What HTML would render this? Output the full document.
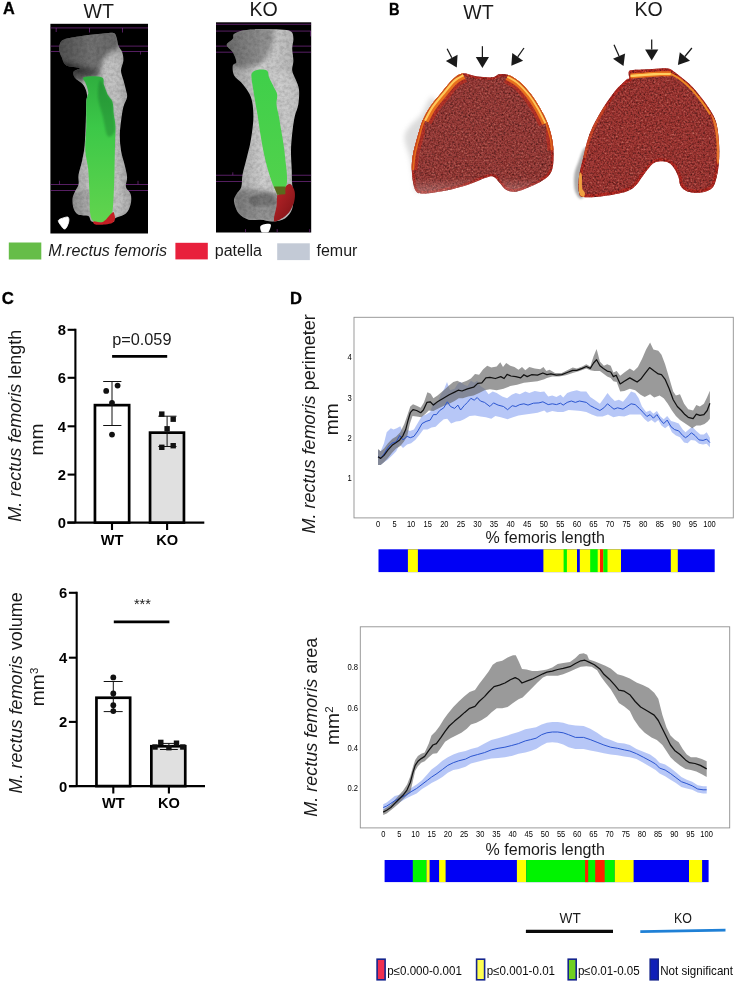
<!DOCTYPE html>
<html><head><meta charset="utf-8"><title>Figure</title>
<style>
html,body{margin:0;padding:0;background:#fff;}
body{width:736px;height:989px;overflow:hidden;position:relative;font-family:"Liberation Sans",Arial,sans-serif;}
svg{position:absolute;left:0;top:0;display:block}
text{font-family:"Liberation Sans",Arial,sans-serif;fill:#1a1a1a}
.b{font-weight:bold}
.i{font-style:italic}
</style></head><body>
<svg width="736" height="989" viewBox="0 0 736 989">
<defs>
<filter id="grain" x="0" y="0" width="100%" height="100%"><feTurbulence type="fractalNoise" baseFrequency="0.9" numOctaves="2" seed="3" result="n"/><feColorMatrix in="n" type="matrix" values="0 0 0 0 0  0 0 0 0 0  0 0 0 0 0  0.9 0.9 0.9 0 -0.95"/><feComposite in2="SourceGraphic" operator="in"/></filter>
<filter id="tex" x="0" y="0" width="100%" height="100%"><feTurbulence type="fractalNoise" baseFrequency="0.55" numOctaves="2" seed="7" result="n"/><feColorMatrix in="n" type="matrix" values="0 0 0 0 0  0 0 0 0 0  0 0 0 0 0  2.0 0 0 0 -0.9"/><feComposite in="SourceGraphic" operator="in"/></filter>
<filter id="tex2" x="0" y="0" width="100%" height="100%"><feTurbulence type="fractalNoise" baseFrequency="0.55" numOctaves="2" seed="7" result="n"/><feColorMatrix in="n" type="matrix" values="0 0 0 0 0  0 0 0 0 0  0 0 0 0 0  -2.2 0 0 0 0.85"/><feComposite in="SourceGraphic" operator="in"/></filter>
<filter id="soft" x="-5%" y="-5%" width="110%" height="110%"><feGaussianBlur stdDeviation="0.45"/></filter>
<linearGradient id="fadeB" x1="0" y1="0" x2="0" y2="1"><stop offset="0" stop-color="#fff" stop-opacity="0"/><stop offset="1" stop-color="#fff" stop-opacity="0.35"/></linearGradient>
<filter id="grainB" x="0" y="0" width="100%" height="100%"><feTurbulence type="fractalNoise" baseFrequency="0.3" numOctaves="3" seed="11" result="n"/><feColorMatrix in="n" type="matrix" values="0 0 0 0 0  0 0 0 0 0  0 0 0 0 0  1.2 0 0 0 -0.4"/><feComposite in="SourceGraphic" operator="in"/></filter>
<linearGradient id="boneKO" x1="0" y1="0" x2="1" y2="0"><stop offset="0" stop-color="#9a9a9a"/><stop offset="0.5" stop-color="#cfcfcf"/><stop offset="1" stop-color="#b4b4b4"/></linearGradient>
<linearGradient id="redK" x1="0" y1="0" x2="1" y2="1"><stop offset="0" stop-color="#c0262a"/><stop offset="1" stop-color="#7a1216"/></linearGradient>
<filter id="blur1"><feGaussianBlur stdDeviation="1.2"/></filter>
<filter id="blur2"><feGaussianBlur stdDeviation="2.5"/></filter>
<filter id="blur05"><feGaussianBlur stdDeviation="0.5"/></filter>
<linearGradient id="boneWT" x1="0" y1="0" x2="1" y2="0"><stop offset="0" stop-color="#8a8a8a"/><stop offset="0.45" stop-color="#c4c4c4"/><stop offset="1" stop-color="#a9a9a9"/></linearGradient>
<linearGradient id="boneV" x1="0" y1="0" x2="0" y2="1"><stop offset="0" stop-color="#000" stop-opacity="0.45"/><stop offset="0.25" stop-color="#000" stop-opacity="0.1"/><stop offset="0.6" stop-color="#fff" stop-opacity="0.1"/><stop offset="1" stop-color="#000" stop-opacity="0.1"/></linearGradient>
<linearGradient id="greenV" x1="0" y1="0" x2="0" y2="1"><stop offset="0" stop-color="#2fae3f"/><stop offset="0.35" stop-color="#3cc848"/><stop offset="1" stop-color="#62d44e"/></linearGradient>
<linearGradient id="greenK" x1="0" y1="0" x2="0" y2="1"><stop offset="0" stop-color="#3fcf4a"/><stop offset="1" stop-color="#52d24c"/></linearGradient>
<clipPath id="cWT"><rect x="50.4" y="23.8" width="97.6" height="209.7"/></clipPath>
<clipPath id="cKO"><rect x="216" y="22.3" width="95.2" height="210.2"/></clipPath>
</defs>

<text class="b" x="3" y="14.3" font-size="16.3" style="fill:#000;stroke:#000;stroke-width:0.3">A</text>
<text x="98.8" y="18" font-size="19.6" text-anchor="middle">WT</text>
<text x="263.6" y="15.6" font-size="19.6" text-anchor="middle">KO</text>
<rect x="50.4" y="23.8" width="97.6" height="209.7" fill="#000"/>
<g clip-path="url(#cWT)">
<line x1="50.4" y1="27.91" x2="148.0" y2="27.91" stroke="#86309a" stroke-width="0.7" opacity="0.95"/>
<line x1="50.4" y1="46.12" x2="148.0" y2="46.12" stroke="#86309a" stroke-width="0.7" opacity="0.95"/>
<line x1="50.4" y1="51.46" x2="148.0" y2="51.46" stroke="#86309a" stroke-width="0.7" opacity="0.95"/>
<line x1="50.4" y1="184.47" x2="148.0" y2="184.47" stroke="#86309a" stroke-width="0.7" opacity="0.95"/>
<line x1="50.4" y1="190.53" x2="148.0" y2="190.53" stroke="#86309a" stroke-width="0.7" opacity="0.95"/>
<line x1="56.2" y1="27.9" x2="56.2" y2="32.0" stroke="#86309a" stroke-width="0.7" opacity="0.9"/>
<line x1="89.5" y1="27.9" x2="89.5" y2="32.5" stroke="#86309a" stroke-width="0.7" opacity="0.9"/>
<line x1="122.5" y1="27.9" x2="122.5" y2="32.5" stroke="#86309a" stroke-width="0.7" opacity="0.9"/>
<line x1="140.4" y1="51.5" x2="140.4" y2="54.6" stroke="#86309a" stroke-width="0.7" opacity="0.9"/>
<line x1="59.6" y1="180.8" x2="59.6" y2="184.5" stroke="#86309a" stroke-width="0.7" opacity="0.9"/>
<line x1="138.0" y1="180.8" x2="138.0" y2="184.5" stroke="#86309a" stroke-width="0.7" opacity="0.9"/>
<clipPath id="cbWT"><path d="M62.8,40.0 C66.0,38.0 72.7,37.4 78.5,36.4 C84.4,35.4 92.3,34.6 98.0,34.0 C103.6,33.4 109.5,32.4 112.5,32.8 C115.6,33.2 115.2,34.2 116.2,36.4 C117.2,38.6 117.6,43.5 118.6,46.1 C119.6,48.7 121.4,49.8 122.2,52.2 C123.0,54.6 123.6,57.6 123.4,60.7 C123.2,63.7 121.0,67.2 121.0,70.4 C121.0,73.6 122.6,76.9 123.4,80.1 C124.3,83.3 125.3,87.0 125.9,89.8 C126.5,92.6 127.5,94.3 127.1,97.1 C126.7,99.9 124.5,102.8 123.4,106.8 C122.4,110.8 121.6,116.5 121.0,121.4 C120.4,126.2 119.8,131.1 119.8,135.9 C119.8,140.8 120.2,145.6 121.0,150.5 C121.8,155.3 123.6,160.6 124.7,165.0 C125.7,169.5 126.9,173.5 127.1,177.2 C127.3,180.8 125.3,184.1 125.9,186.9 C126.5,189.7 129.9,191.3 130.7,194.2 C131.5,197.0 131.5,200.6 130.7,203.9 C129.9,207.1 128.5,211.2 125.9,213.6 C123.2,216.0 117.2,217.0 115.0,218.4 C112.7,219.9 116.2,221.5 112.5,222.1 C108.9,222.7 97.2,223.1 93.1,222.1 C89.1,221.1 90.7,217.2 88.3,216.0 C85.8,214.8 81.0,216.0 78.5,214.8 C76.1,213.6 74.7,211.4 73.7,208.7 C72.7,206.1 72.3,201.9 72.5,199.0 C72.7,196.2 73.9,194.2 74.9,191.7 C75.9,189.3 77.9,187.3 78.5,184.5 C79.2,181.6 77.9,178.8 78.5,174.8 C79.2,170.7 81.2,165.0 82.2,160.2 C83.2,155.3 84.0,152.1 84.6,145.6 C85.2,139.2 85.5,128.6 85.8,121.4 C86.1,114.1 86.1,106.4 86.3,101.9 C86.5,97.5 87.5,97.5 87.0,94.7 C86.6,91.8 85.4,87.8 83.4,85.0 C81.4,82.1 76.5,79.9 74.9,77.7 C73.3,75.4 72.9,73.2 73.7,71.6 C74.5,70.0 81.0,69.0 79.8,68.0 C78.5,66.9 69.4,67.4 66.4,65.5 C63.4,63.7 62.8,59.9 61.6,57.0 C60.3,54.2 58.9,51.4 59.1,48.5 C59.3,45.7 59.5,42.1 62.8,40.0Z"/></clipPath>
<g filter="url(#soft)">
<path d="M62.8,40.0 C66.0,38.0 72.7,37.4 78.5,36.4 C84.4,35.4 92.3,34.6 98.0,34.0 C103.6,33.4 109.5,32.4 112.5,32.8 C115.6,33.2 115.2,34.2 116.2,36.4 C117.2,38.6 117.6,43.5 118.6,46.1 C119.6,48.7 121.4,49.8 122.2,52.2 C123.0,54.6 123.6,57.6 123.4,60.7 C123.2,63.7 121.0,67.2 121.0,70.4 C121.0,73.6 122.6,76.9 123.4,80.1 C124.3,83.3 125.3,87.0 125.9,89.8 C126.5,92.6 127.5,94.3 127.1,97.1 C126.7,99.9 124.5,102.8 123.4,106.8 C122.4,110.8 121.6,116.5 121.0,121.4 C120.4,126.2 119.8,131.1 119.8,135.9 C119.8,140.8 120.2,145.6 121.0,150.5 C121.8,155.3 123.6,160.6 124.7,165.0 C125.7,169.5 126.9,173.5 127.1,177.2 C127.3,180.8 125.3,184.1 125.9,186.9 C126.5,189.7 129.9,191.3 130.7,194.2 C131.5,197.0 131.5,200.6 130.7,203.9 C129.9,207.1 128.5,211.2 125.9,213.6 C123.2,216.0 117.2,217.0 115.0,218.4 C112.7,219.9 116.2,221.5 112.5,222.1 C108.9,222.7 97.2,223.1 93.1,222.1 C89.1,221.1 90.7,217.2 88.3,216.0 C85.8,214.8 81.0,216.0 78.5,214.8 C76.1,213.6 74.7,211.4 73.7,208.7 C72.7,206.1 72.3,201.9 72.5,199.0 C72.7,196.2 73.9,194.2 74.9,191.7 C75.9,189.3 77.9,187.3 78.5,184.5 C79.2,181.6 77.9,178.8 78.5,174.8 C79.2,170.7 81.2,165.0 82.2,160.2 C83.2,155.3 84.0,152.1 84.6,145.6 C85.2,139.2 85.5,128.6 85.8,121.4 C86.1,114.1 86.1,106.4 86.3,101.9 C86.5,97.5 87.5,97.5 87.0,94.7 C86.6,91.8 85.4,87.8 83.4,85.0 C81.4,82.1 76.5,79.9 74.9,77.7 C73.3,75.4 72.9,73.2 73.7,71.6 C74.5,70.0 81.0,69.0 79.8,68.0 C78.5,66.9 69.4,67.4 66.4,65.5 C63.4,63.7 62.8,59.9 61.6,57.0 C60.3,54.2 58.9,51.4 59.1,48.5 C59.3,45.7 59.5,42.1 62.8,40.0Z" fill="url(#boneWT)"/>
<g clip-path="url(#cbWT)">
<path d="M54.3,51.0 C54.7,46.1 53.1,40.0 59.1,36.4 C65.2,32.8 81.6,30.3 90.7,29.1 C99.8,27.9 108.8,26.3 113.7,29.1 C118.7,32.0 120.9,42.3 120.3,46.1 C119.7,50.0 113.0,49.8 110.1,52.2 C107.2,54.6 104.8,57.2 102.8,60.7 C100.8,64.1 102.8,70.8 98.0,72.8 C93.1,74.8 80.6,74.0 73.7,72.8 C66.8,71.6 59.9,69.2 56.7,65.5 C53.5,61.9 53.9,55.8 54.3,51.0Z" fill="#000" opacity="0.42" filter="url(#blur2)"/>
<path d="M56.7,61.9 C60.3,61.3 73.7,64.9 81.0,66.7 C88.3,68.6 99.6,70.6 100.4,72.8 C101.2,75.0 90.7,78.9 85.8,80.1 C81.0,81.3 75.7,81.7 71.3,80.1 C66.8,78.5 61.6,73.4 59.1,70.4 C56.7,67.4 53.1,62.5 56.7,61.9Z" fill="#000" opacity="0.5" filter="url(#blur2)"/>
<path d="M102.8,63.1 C104.8,57.8 116.6,55.0 119.8,60.7 C123.0,66.3 122.4,84.5 122.2,97.1 C122.0,109.6 118.6,121.4 118.6,135.9 C118.6,150.5 120.8,172.7 122.2,184.5 C123.6,196.2 129.1,200.6 127.1,206.3 C125.1,212.0 112.5,224.5 110.1,218.4 C107.7,212.4 111.9,186.1 112.5,169.9 C113.1,153.7 114.5,134.3 113.7,121.4 C112.9,108.4 109.5,101.9 107.7,92.2 C105.8,82.5 100.8,68.4 102.8,63.1Z" fill="#fff" opacity="0.18" filter="url(#blur2)"/>
<path d="M72.5,194.2 C75.6,191.7 87.2,187.1 90.7,191.7 C94.1,196.4 95.1,218.0 93.1,222.1 C91.1,226.1 82.1,218.6 78.5,216.0 C75.0,213.4 72.8,210.0 71.7,206.3 C70.7,202.7 69.3,196.6 72.5,194.2Z" fill="#000" opacity="0.1" filter="url(#blur1)"/>
<rect x="50" y="24" width="98" height="210" fill="#000" filter="url(#grainB)" opacity="0.22"/>
</g></g>
<path d="M83.9,77.2 C86.6,76.3 98.2,75.9 101.6,77.2 C105.0,78.5 103.0,82.0 104.0,85.0 C105.0,87.9 106.3,91.8 107.7,94.7 C109.1,97.5 111.5,98.7 112.5,101.9 C113.5,105.2 113.3,110.0 113.7,114.1 C114.2,118.1 115.2,121.0 115.4,126.2 C115.6,131.5 115.1,138.3 115.0,145.6 C114.8,152.9 114.7,161.8 114.5,169.9 C114.3,178.0 114.1,187.3 113.7,194.2 C113.4,201.1 113.1,207.1 112.5,211.2 C111.9,215.2 111.7,216.6 110.1,218.4 C108.5,220.3 105.6,221.6 102.8,222.1 C100.1,222.6 95.7,222.8 93.6,221.4 C91.5,219.9 90.9,218.1 90.2,213.6 C89.5,209.1 89.8,201.5 89.5,194.2 C89.1,186.9 88.9,177.2 88.3,169.9 C87.6,162.6 85.7,157.8 85.3,150.5 C85.0,143.2 86.1,134.3 86.3,126.2 C86.5,118.1 86.0,107.6 86.3,101.9 C86.6,96.3 88.4,95.5 88.3,92.2 C88.1,89.0 86.1,85.0 85.3,82.5 C84.6,80.0 81.2,78.1 83.9,77.2Z" fill="url(#greenV)"/>
<path d="M100.4,80.1 C102.0,79.7 105.6,91.0 107.7,94.7 C109.7,98.3 111.5,98.7 112.5,101.9 C113.5,105.2 113.3,109.2 113.7,114.1 C114.1,118.9 116.0,127.4 115.0,131.1 C113.9,134.7 109.7,138.3 107.7,135.9 C105.6,133.5 104.4,123.0 102.8,116.5 C101.2,110.0 98.4,103.2 98.0,97.1 C97.6,91.0 98.8,80.5 100.4,80.1Z" fill="#0a5a20" opacity="0.3" filter="url(#blur1)"/>
<path d="M93.6,221.4 C94.8,221.0 99.9,223.4 102.8,222.1 C105.8,220.8 109.5,215.2 111.3,213.6 C113.1,212.0 113.1,211.6 113.7,212.4 C114.3,213.2 115.2,216.7 115.0,218.4 C114.7,220.2 114.1,221.8 112.5,222.8 C110.9,223.8 108.1,224.2 105.2,224.5 C102.4,224.8 97.5,225.0 95.5,224.5 C93.6,224.0 92.4,221.8 93.6,221.4Z" fill="#c41f24"/>
<path d="M58.4,220.4 C58.9,219.1 62.4,218.2 64.0,217.7 C65.6,217.2 67.3,216.6 68.1,217.2 C68.9,217.8 69.1,219.6 68.8,221.4 C68.6,223.1 67.2,226.4 66.4,227.7 C65.6,228.9 64.9,229.2 64.0,228.9 C63.1,228.6 62.0,227.1 61.1,225.7 C60.1,224.3 57.9,221.7 58.4,220.4Z" fill="#fff" stroke="#fff" stroke-width="0.8" stroke-linejoin="round"/>
</g>
<rect x="216" y="22.3" width="95.2" height="210.2" fill="#000"/>
<g clip-path="url(#cKO)">
<line x1="216.0" y1="24.27" x2="311.2" y2="24.27" stroke="#86309a" stroke-width="0.7" opacity="0.95"/>
<line x1="216.0" y1="31.07" x2="311.2" y2="31.07" stroke="#86309a" stroke-width="0.7" opacity="0.95"/>
<line x1="216.0" y1="46.12" x2="311.2" y2="46.12" stroke="#86309a" stroke-width="0.7" opacity="0.95"/>
<line x1="216.0" y1="52.18" x2="311.2" y2="52.18" stroke="#86309a" stroke-width="0.7" opacity="0.95"/>
<line x1="216.0" y1="175.24" x2="311.2" y2="175.24" stroke="#86309a" stroke-width="0.7" opacity="0.95"/>
<line x1="216.0" y1="181.55" x2="311.2" y2="181.55" stroke="#86309a" stroke-width="0.7" opacity="0.95"/>
<line x1="245.6" y1="31.1" x2="245.6" y2="35.2" stroke="#86309a" stroke-width="0.7" opacity="0.9"/>
<line x1="277.7" y1="31.1" x2="277.7" y2="35.2" stroke="#86309a" stroke-width="0.7" opacity="0.9"/>
<line x1="310.4" y1="31.1" x2="310.4" y2="36.4" stroke="#86309a" stroke-width="0.7" opacity="0.9"/>
<line x1="232.8" y1="172.3" x2="232.8" y2="175.2" stroke="#86309a" stroke-width="0.7" opacity="0.9"/>
<line x1="245.6" y1="229.1" x2="245.6" y2="232.5" stroke="#86309a" stroke-width="0.7" opacity="0.9"/>
<line x1="277.2" y1="229.1" x2="277.2" y2="232.5" stroke="#86309a" stroke-width="0.7" opacity="0.9"/>
<line x1="309.7" y1="229.1" x2="309.7" y2="232.5" stroke="#86309a" stroke-width="0.7" opacity="0.9"/>
<clipPath id="cbKO"><path d="M234.0,34.0 C235.8,32.6 239.2,31.1 243.7,30.3 C248.1,29.5 254.6,29.2 260.7,29.1 C266.7,29.0 275.0,29.2 280.1,29.6 C285.2,30.0 288.8,30.0 291.0,31.6 C293.2,33.1 293.2,36.0 293.4,38.8 C293.6,41.7 292.2,44.9 292.2,48.5 C292.2,52.2 293.4,57.0 293.4,60.7 C293.4,64.3 291.8,67.2 292.2,70.4 C292.6,73.6 294.7,76.9 295.9,80.1 C297.0,83.3 298.6,85.8 299.0,89.8 C299.4,93.9 299.0,99.9 298.3,104.4 C297.6,108.8 295.7,111.7 294.7,116.5 C293.6,121.4 292.8,127.8 292.2,133.5 C291.6,139.2 291.1,144.4 291.0,150.5 C290.9,156.6 291.5,164.2 291.7,169.9 C291.9,175.6 291.9,180.4 292.2,184.5 C292.5,188.5 293.4,190.1 293.4,194.2 C293.4,198.2 293.6,204.7 292.2,208.7 C290.8,212.8 288.2,216.3 285.0,218.4 C281.7,220.6 276.9,221.2 272.8,221.4 C268.8,221.6 264.7,219.9 260.7,219.7 C256.6,219.4 252.2,220.7 248.5,219.7 C244.9,218.6 241.3,216.6 238.8,213.6 C236.4,210.6 234.4,204.7 234.0,201.5 C233.6,198.2 235.2,196.6 236.4,194.2 C237.6,191.7 240.3,190.1 241.3,186.9 C242.3,183.7 241.7,179.2 242.5,174.8 C243.3,170.3 244.9,165.0 246.1,160.2 C247.3,155.3 248.7,150.5 249.8,145.6 C250.8,140.8 251.6,135.9 252.2,131.1 C252.8,126.2 253.4,121.4 253.4,116.5 C253.4,111.7 253.0,106.0 252.2,101.9 C251.4,97.9 250.4,95.5 248.5,92.2 C246.7,89.0 243.7,85.4 241.3,82.5 C238.8,79.7 235.4,78.1 234.0,75.2 C232.6,72.4 232.4,67.8 232.8,65.5 C233.2,63.3 236.4,64.1 236.4,61.9 C236.4,59.7 234.4,55.0 232.8,52.2 C231.1,49.4 226.7,47.1 226.7,44.9 C226.7,42.7 231.6,40.7 232.8,38.8 C234.0,37.0 232.2,35.4 234.0,34.0Z"/></clipPath>
<g filter="url(#soft)">
<path d="M234.0,34.0 C235.8,32.6 239.2,31.1 243.7,30.3 C248.1,29.5 254.6,29.2 260.7,29.1 C266.7,29.0 275.0,29.2 280.1,29.6 C285.2,30.0 288.8,30.0 291.0,31.6 C293.2,33.1 293.2,36.0 293.4,38.8 C293.6,41.7 292.2,44.9 292.2,48.5 C292.2,52.2 293.4,57.0 293.4,60.7 C293.4,64.3 291.8,67.2 292.2,70.4 C292.6,73.6 294.7,76.9 295.9,80.1 C297.0,83.3 298.6,85.8 299.0,89.8 C299.4,93.9 299.0,99.9 298.3,104.4 C297.6,108.8 295.7,111.7 294.7,116.5 C293.6,121.4 292.8,127.8 292.2,133.5 C291.6,139.2 291.1,144.4 291.0,150.5 C290.9,156.6 291.5,164.2 291.7,169.9 C291.9,175.6 291.9,180.4 292.2,184.5 C292.5,188.5 293.4,190.1 293.4,194.2 C293.4,198.2 293.6,204.7 292.2,208.7 C290.8,212.8 288.2,216.3 285.0,218.4 C281.7,220.6 276.9,221.2 272.8,221.4 C268.8,221.6 264.7,219.9 260.7,219.7 C256.6,219.4 252.2,220.7 248.5,219.7 C244.9,218.6 241.3,216.6 238.8,213.6 C236.4,210.6 234.4,204.7 234.0,201.5 C233.6,198.2 235.2,196.6 236.4,194.2 C237.6,191.7 240.3,190.1 241.3,186.9 C242.3,183.7 241.7,179.2 242.5,174.8 C243.3,170.3 244.9,165.0 246.1,160.2 C247.3,155.3 248.7,150.5 249.8,145.6 C250.8,140.8 251.6,135.9 252.2,131.1 C252.8,126.2 253.4,121.4 253.4,116.5 C253.4,111.7 253.0,106.0 252.2,101.9 C251.4,97.9 250.4,95.5 248.5,92.2 C246.7,89.0 243.7,85.4 241.3,82.5 C238.8,79.7 235.4,78.1 234.0,75.2 C232.6,72.4 232.4,67.8 232.8,65.5 C233.2,63.3 236.4,64.1 236.4,61.9 C236.4,59.7 234.4,55.0 232.8,52.2 C231.1,49.4 226.7,47.1 226.7,44.9 C226.7,42.7 231.6,40.7 232.8,38.8 C234.0,37.0 232.2,35.4 234.0,34.0Z" fill="url(#boneKO)"/>
<g clip-path="url(#cbKO)">
<path d="M224.3,46.1 C224.7,41.3 225.5,35.0 231.6,31.6 C237.6,28.1 253.8,25.9 260.7,25.5 C267.6,25.1 271.2,25.3 272.8,29.1 C274.4,33.0 272.4,42.9 270.4,48.5 C268.4,54.2 265.9,59.9 260.7,63.1 C255.4,66.3 244.1,68.4 238.8,68.0 C233.6,67.6 231.6,64.3 229.1,60.7 C226.7,57.0 223.9,51.0 224.3,46.1Z" fill="#000" opacity="0.3" filter="url(#blur2)"/>
<path d="M234.0,194.2 C235.6,189.7 242.1,189.3 248.5,189.3 C255.0,189.3 267.6,189.3 272.8,194.2 C278.1,199.0 282.1,213.8 280.1,218.4 C278.1,223.1 267.6,222.5 260.7,222.1 C253.8,221.7 243.3,220.7 238.8,216.0 C234.4,211.4 232.4,198.6 234.0,194.2Z" fill="#000" opacity="0.28" filter="url(#blur2)"/>
<path d="M275.2,72.8 C277.9,69.2 292.0,74.8 295.9,80.1 C299.7,85.4 298.7,95.5 298.3,104.4 C297.9,113.3 294.5,122.6 293.4,133.5 C292.4,144.4 293.6,163.0 292.2,169.9 C290.8,176.8 286.6,180.4 285.0,174.8 C283.3,169.1 283.3,148.1 282.5,135.9 C281.7,123.8 281.3,112.5 280.1,101.9 C278.9,91.4 272.6,76.5 275.2,72.8Z" fill="#fff" opacity="0.2" filter="url(#blur2)"/>
<path d="M249.8,197.8 C251.8,195.8 258.5,193.6 263.1,193.0 C267.7,192.4 275.0,192.4 277.2,194.2 C279.4,196.0 279.2,201.9 276.5,203.9 C273.7,205.9 264.9,206.1 260.7,206.3 C256.4,206.5 252.8,206.5 251.0,205.1 C249.2,203.7 247.7,199.8 249.8,197.8Z" fill="#000" opacity="0.2" filter="url(#blur1)"/>
<rect x="216" y="22" width="96" height="211" fill="#000" filter="url(#grainB)" opacity="0.22"/>
</g></g>
<path d="M286.2,185.7 C288.2,184.1 289.6,183.5 291.0,184.5 C292.4,185.5 294.1,188.9 294.7,191.7 C295.2,194.6 295.0,198.2 294.2,201.5 C293.4,204.7 291.5,208.5 289.8,211.2 C288.1,213.8 286.2,215.5 283.7,217.2 C281.3,218.9 276.9,221.2 275.2,221.4 C273.6,221.6 273.8,221.0 274.0,218.4 C274.2,215.9 275.9,210.2 276.5,206.3 C277.0,202.5 276.8,197.4 277.2,195.4 C277.6,193.4 277.4,195.8 278.9,194.2 C280.4,192.6 284.1,187.3 286.2,185.7Z" fill="url(#redK)"/>
<path d="M252.2,72.8 C253.1,71.5 254.6,70.3 257.0,69.9 C259.5,69.5 264.7,69.1 266.7,70.4 C268.8,71.7 268.0,74.8 269.2,77.7 C270.4,80.5 272.7,84.5 274.0,87.4 C275.4,90.2 276.8,91.8 277.2,94.7 C277.6,97.5 276.2,100.7 276.5,104.4 C276.7,108.0 278.1,112.1 278.9,116.5 C279.7,121.0 280.5,126.2 281.3,131.1 C282.1,135.9 283.1,140.8 283.7,145.6 C284.4,150.5 284.9,155.3 285.4,160.2 C286.0,165.0 286.8,170.5 286.9,174.8 C287.0,179.0 287.5,182.4 286.2,185.7 C284.8,188.9 280.5,193.2 278.9,194.2 C277.3,195.2 277.5,193.4 276.5,191.7 C275.4,190.1 274.2,188.1 272.8,184.5 C271.4,180.8 269.4,174.8 268.0,169.9 C266.5,165.0 265.5,161.0 264.3,155.3 C263.1,149.7 261.8,142.4 260.7,135.9 C259.6,129.4 258.7,122.2 257.8,116.5 C256.9,110.8 256.1,106.8 255.3,101.9 C254.5,97.1 253.6,91.4 252.9,87.4 C252.3,83.3 251.6,80.1 251.5,77.7 C251.3,75.2 251.3,74.1 252.2,72.8Z" fill="url(#greenK)"/>
<path d="M274.0,186.4 L285.4,186.4 L285.4,194.2 L277.2,194.7Z" fill="#5a6a1c"/>
<path d="M260.2,226.9 C260.4,225.6 261.6,225.0 263.1,224.5 C264.6,224.0 267.9,223.6 269.2,223.8 C270.5,224.0 271.1,224.3 270.9,225.7 C270.7,227.2 269.5,231.4 268.0,232.5 C266.5,233.7 263.2,233.5 261.9,232.5 C260.6,231.6 260.0,228.3 260.2,226.9Z" fill="#fff"/>
</g>
<rect x="8.8" y="242.5" width="32.5" height="17" fill="#66bd48"/>
<text class="i" x="48.2" y="255.5" font-size="16.1">M.rectus femoris</text>
<rect x="175.4" y="242.8" width="32.4" height="16.6" fill="#e8203c"/>
<text x="214.8" y="255.5" font-size="16">patella</text>
<rect x="277.2" y="243.3" width="32.6" height="16.8" fill="#c3cad6"/>
<text x="316.5" y="256.4" font-size="16">femur</text>
<text class="b" transform="translate(389.1,14.6) scale(0.88,1)" font-size="16.6" style="fill:#000;stroke:#000;stroke-width:0.3">B</text>
<text x="478.6" y="19" font-size="19.6" text-anchor="middle">WT</text>
<text x="648.6" y="15.5" font-size="19.6" text-anchor="middle">KO</text>
<path d="M434.6,99.3 C430.4,90.4 425.0,110.8 420.8,115.5 C416.6,120.1 411.9,123.1 409.2,127.0 C406.5,130.8 404.4,133.2 404.6,138.5 C404.8,143.9 408.9,152.4 410.4,159.3 C411.9,166.3 412.5,174.7 413.9,180.1 C415.2,185.5 413.1,193.6 418.5,191.7 C423.9,189.7 443.5,184.0 446.2,168.6 C448.9,153.2 438.9,108.1 434.6,99.3Z" fill="#9a9a9a" filter="url(#blur2)" opacity="0.35"/>
<g filter="url(#soft)">
<path d="M462.4,73.4 C466.2,73.0 471.2,75.5 476.2,76.2 C481.2,76.8 488.5,77.7 492.4,77.3 C496.2,77.0 496.6,74.7 499.3,74.3 C502.0,74.0 505.3,73.9 508.5,75.0 C511.8,76.2 515.3,78.2 518.9,81.3 C522.6,84.3 527.0,89.2 530.5,93.5 C533.9,97.9 536.9,102.6 539.7,107.4 C542.5,112.2 545.3,117.2 547.3,122.4 C549.4,127.6 550.9,133.2 552.0,138.5 C553.0,143.9 553.6,149.3 553.6,154.7 C553.5,160.1 553.5,166.6 551.7,170.9 C550.0,175.1 546.9,177.4 543.2,180.1 C539.5,182.8 533.9,185.1 529.3,187.0 C524.7,189.0 519.3,191.2 515.5,191.7 C511.6,192.1 508.9,191.3 506.2,189.8 C503.6,188.4 501.9,185.1 499.8,182.9 C497.7,180.7 495.9,177.5 493.5,176.7 C491.1,175.8 489.5,176.5 485.5,177.8 C481.4,179.1 475.8,182.2 469.3,184.3 C462.7,186.4 453.9,189.0 446.2,190.5 C438.5,192.0 428.3,193.6 423.1,193.5 C417.9,193.4 417.1,193.2 415.2,189.8 C413.4,186.4 412.4,178.8 412.0,173.2 C411.6,167.5 411.7,162.2 412.7,155.9 C413.7,149.5 416.4,141.0 418.0,135.1 C419.7,129.2 420.6,125.3 422.6,120.5 C424.7,115.7 427.3,110.9 430.5,106.2 C433.6,101.5 437.8,96.9 441.6,92.4 C445.3,87.8 449.7,82.1 453.1,79.0 C456.6,75.8 458.5,73.9 462.4,73.4Z" fill="#983e3a"/>
<clipPath id="cpWT"><path d="M462.4,73.4 C466.2,73.0 471.2,75.5 476.2,76.2 C481.2,76.8 488.5,77.7 492.4,77.3 C496.2,77.0 496.6,74.7 499.3,74.3 C502.0,74.0 505.3,73.9 508.5,75.0 C511.8,76.2 515.3,78.2 518.9,81.3 C522.6,84.3 527.0,89.2 530.5,93.5 C533.9,97.9 536.9,102.6 539.7,107.4 C542.5,112.2 545.3,117.2 547.3,122.4 C549.4,127.6 550.9,133.2 552.0,138.5 C553.0,143.9 553.6,149.3 553.6,154.7 C553.5,160.1 553.5,166.6 551.7,170.9 C550.0,175.1 546.9,177.4 543.2,180.1 C539.5,182.8 533.9,185.1 529.3,187.0 C524.7,189.0 519.3,191.2 515.5,191.7 C511.6,192.1 508.9,191.3 506.2,189.8 C503.6,188.4 501.9,185.1 499.8,182.9 C497.7,180.7 495.9,177.5 493.5,176.7 C491.1,175.8 489.5,176.5 485.5,177.8 C481.4,179.1 475.8,182.2 469.3,184.3 C462.7,186.4 453.9,189.0 446.2,190.5 C438.5,192.0 428.3,193.6 423.1,193.5 C417.9,193.4 417.1,193.2 415.2,189.8 C413.4,186.4 412.4,178.8 412.0,173.2 C411.6,167.5 411.7,162.2 412.7,155.9 C413.7,149.5 416.4,141.0 418.0,135.1 C419.7,129.2 420.6,125.3 422.6,120.5 C424.7,115.7 427.3,110.9 430.5,106.2 C433.6,101.5 437.8,96.9 441.6,92.4 C445.3,87.8 449.7,82.1 453.1,79.0 C456.6,75.8 458.5,73.9 462.4,73.4Z"/></clipPath>
<g clip-path="url(#cpWT)">
<path d="M462.4,73.4 C466.2,73.0 471.2,75.5 476.2,76.2 C481.2,76.8 488.5,77.7 492.4,77.3 C496.2,77.0 496.6,74.7 499.3,74.3 C502.0,74.0 505.3,73.9 508.5,75.0 C511.8,76.2 515.3,78.2 518.9,81.3 C522.6,84.3 527.0,89.2 530.5,93.5 C533.9,97.9 536.9,102.6 539.7,107.4 C542.5,112.2 545.3,117.2 547.3,122.4 C549.4,127.6 550.9,133.2 552.0,138.5 C553.0,143.9 553.6,149.3 553.6,154.7 C553.5,160.1 553.5,166.6 551.7,170.9 C550.0,175.1 546.9,177.4 543.2,180.1 C539.5,182.8 533.9,185.1 529.3,187.0 C524.7,189.0 519.3,191.2 515.5,191.7 C511.6,192.1 508.9,191.3 506.2,189.8 C503.6,188.4 501.9,185.1 499.8,182.9 C497.7,180.7 495.9,177.5 493.5,176.7 C491.1,175.8 489.5,176.5 485.5,177.8 C481.4,179.1 475.8,182.2 469.3,184.3 C462.7,186.4 453.9,189.0 446.2,190.5 C438.5,192.0 428.3,193.6 423.1,193.5 C417.9,193.4 417.1,193.2 415.2,189.8 C413.4,186.4 412.4,178.8 412.0,173.2 C411.6,167.5 411.7,162.2 412.7,155.9 C413.7,149.5 416.4,141.0 418.0,135.1 C419.7,129.2 420.6,125.3 422.6,120.5 C424.7,115.7 427.3,110.9 430.5,106.2 C433.6,101.5 437.8,96.9 441.6,92.4 C445.3,87.8 449.7,82.1 453.1,79.0 C456.6,75.8 458.5,73.9 462.4,73.4Z" fill="none" stroke="#b8261e" stroke-width="5" opacity="0.75"/>
<rect x="405" y="70" width="155" height="130" fill="#401212" filter="url(#tex)"/>
<rect x="405" y="70" width="155" height="130" fill="#d88878" filter="url(#tex2)"/>
<path d="M423.1,119.6 C422.7,120.5 421.6,122.1 420.8,124.7 C419.9,127.3 419.2,130.3 418.0,135.1 C416.8,139.9 414.5,147.8 413.4,153.6 C412.3,159.3 411.9,167.0 411.5,169.7" fill="none" stroke="#c62a1c" stroke-width="12" stroke-linecap="butt" opacity="0.55" filter="url(#blur05)"/>
<path d="M423.1,119.6 C422.7,120.5 421.6,122.1 420.8,124.7 C419.9,127.3 419.2,130.3 418.0,135.1 C416.8,139.9 414.5,147.8 413.4,153.6 C412.3,159.3 411.9,167.0 411.5,169.7" fill="none" stroke="#e8701e" stroke-width="5" stroke-linecap="butt"/>
<path d="M423.1,119.6 C422.7,120.5 421.6,122.1 420.8,124.7 C419.9,127.3 419.2,130.3 418.0,135.1 C416.8,139.9 414.5,147.8 413.4,153.6 C412.3,159.3 411.9,167.0 411.5,169.7" fill="none" stroke="#c8481c" stroke-width="2.2" stroke-linecap="butt"/>
<path d="M462.4,73.4 C460.8,74.3 456.6,75.8 453.1,79.0 C449.7,82.1 445.3,87.8 441.6,92.4 C437.8,96.9 433.6,101.7 430.5,106.2 C427.4,110.8 424.3,117.4 423.1,119.6" fill="none" stroke="#c62a1c" stroke-width="19" stroke-linecap="butt" opacity="0.55" filter="url(#blur05)"/>
<path d="M462.4,73.4 C460.8,74.3 456.6,75.8 453.1,79.0 C449.7,82.1 445.3,87.8 441.6,92.4 C437.8,96.9 433.6,101.7 430.5,106.2 C427.4,110.8 424.3,117.4 423.1,119.6" fill="none" stroke="#e8701e" stroke-width="12" stroke-linecap="butt"/>
<path d="M462.4,73.4 C460.8,74.3 456.6,75.8 453.1,79.0 C449.7,82.1 445.3,87.8 441.6,92.4 C437.8,96.9 433.6,101.7 430.5,106.2 C427.4,110.8 424.3,117.4 423.1,119.6" fill="none" stroke="#ffc858" stroke-width="6.5" stroke-linecap="butt" stroke-dasharray="60 0" filter="url(#blur05)"/>
<path d="M462.4,73.4 C460.8,74.3 456.6,75.8 453.1,79.0 C449.7,82.1 445.3,87.8 441.6,92.4 C437.8,96.9 433.6,101.7 430.5,106.2 C427.4,110.8 424.3,117.4 423.1,119.6" fill="none" stroke="#c8481c" stroke-width="2.2" stroke-linecap="butt"/>
<path d="M547.3,122.4 C548.1,125.1 551.0,133.9 552.0,138.5 C552.9,143.2 552.9,148.2 553.1,150.1" fill="none" stroke="#c62a1c" stroke-width="11.5" stroke-linecap="butt" opacity="0.55" filter="url(#blur05)"/>
<path d="M547.3,122.4 C548.1,125.1 551.0,133.9 552.0,138.5 C552.9,143.2 552.9,148.2 553.1,150.1" fill="none" stroke="#e8701e" stroke-width="4.5" stroke-linecap="butt"/>
<path d="M547.3,122.4 C548.1,125.1 551.0,133.9 552.0,138.5 C552.9,143.2 552.9,148.2 553.1,150.1" fill="none" stroke="#c8481c" stroke-width="2.2" stroke-linecap="butt"/>
<path d="M508.5,75.0 C510.3,76.1 515.3,78.2 518.9,81.3 C522.6,84.3 527.0,89.2 530.5,93.5 C533.9,97.9 536.9,102.6 539.7,107.4 C542.5,112.2 546.1,119.9 547.3,122.4" fill="none" stroke="#c62a1c" stroke-width="18" stroke-linecap="butt" opacity="0.55" filter="url(#blur05)"/>
<path d="M508.5,75.0 C510.3,76.1 515.3,78.2 518.9,81.3 C522.6,84.3 527.0,89.2 530.5,93.5 C533.9,97.9 536.9,102.6 539.7,107.4 C542.5,112.2 546.1,119.9 547.3,122.4" fill="none" stroke="#e8701e" stroke-width="11" stroke-linecap="butt"/>
<path d="M508.5,75.0 C510.3,76.1 515.3,78.2 518.9,81.3 C522.6,84.3 527.0,89.2 530.5,93.5 C533.9,97.9 536.9,102.6 539.7,107.4 C542.5,112.2 546.1,119.9 547.3,122.4" fill="none" stroke="#ffc858" stroke-width="6" stroke-linecap="butt" stroke-dasharray="60 0" filter="url(#blur05)"/>
<path d="M508.5,75.0 C510.3,76.1 515.3,78.2 518.9,81.3 C522.6,84.3 527.0,89.2 530.5,93.5 C533.9,97.9 536.9,102.6 539.7,107.4 C542.5,112.2 546.1,119.9 547.3,122.4" fill="none" stroke="#c8481c" stroke-width="2.2" stroke-linecap="butt"/>
<rect x="405" y="178" width="155" height="22" fill="url(#fadeB)"/>
</g></g>
<line x1="447.1" y1="48.8" x2="451.8" y2="57.8" stroke="#1a1a1a" stroke-width="1.25"/>
<path d="M456.8,67.6 L445.9,60.9 L457.6,54.8Z" fill="#1a1a1a"/>
<line x1="482.4" y1="46.2" x2="482.4" y2="57.1" stroke="#1a1a1a" stroke-width="1.25"/>
<path d="M482.4,68.1 L475.8,57.1 L489.0,57.1Z" fill="#1a1a1a"/>
<line x1="524.0" y1="48.0" x2="517.7" y2="56.8" stroke="#1a1a1a" stroke-width="1.25"/>
<path d="M511.3,65.8 L512.3,53.0 L523.1,60.7Z" fill="#1a1a1a"/>
<path d="M585.8,147.4 C582.6,147.0 579.9,158.3 577.9,163.2 C575.9,168.1 574.4,171.8 574.1,176.7 C573.7,181.6 574.1,189.1 575.6,192.5 C577.2,195.9 580.0,201.6 583.5,197.0 C587.1,192.5 596.7,173.7 597.1,165.4 C597.5,157.2 589.0,147.8 585.8,147.4Z" fill="#8a8a8a" filter="url(#blur1)" opacity="0.7"/>
<g filter="url(#soft)">
<path d="M629.8,70.6 C632.4,69.1 639.4,69.9 644.5,69.5 C649.6,69.1 656.2,68.5 660.3,68.4 C664.4,68.3 666.3,67.7 669.3,68.8 C672.3,70.0 674.6,72.2 678.4,75.1 C682.1,78.1 687.8,82.3 691.9,86.4 C696.0,90.6 699.8,95.5 703.2,100.0 C706.6,104.5 710.0,109.4 712.2,113.5 C714.5,117.7 715.6,119.9 716.7,124.8 C717.9,129.7 718.6,136.8 719.0,142.9 C719.4,148.9 719.4,155.3 719.0,160.9 C718.6,166.6 717.9,172.2 716.7,176.7 C715.6,181.2 714.8,185.4 712.2,188.0 C709.6,190.6 705.1,192.0 700.9,192.5 C696.8,193.1 690.8,192.5 687.4,191.4 C684.0,190.3 682.1,188.2 680.6,185.8 C679.1,183.3 679.5,179.7 678.4,176.7 C677.2,173.7 675.7,170.1 673.8,167.7 C672.0,165.3 670.1,163.0 667.1,162.1 C664.1,161.1 658.8,161.1 655.8,162.1 C652.8,163.0 651.3,165.3 649.0,167.7 C646.7,170.1 644.5,173.7 642.2,176.7 C640.0,179.7 638.1,183.3 635.5,185.8 C632.8,188.2 631.7,189.7 626.4,191.4 C621.2,193.1 611.0,195.0 603.9,195.9 C596.7,196.9 587.7,197.6 583.5,197.0 C579.4,196.5 579.8,195.9 579.0,192.5 C578.3,189.1 578.3,182.7 579.0,176.7 C579.8,170.7 582.0,162.8 583.5,156.4 C585.0,150.0 586.2,144.0 588.1,138.4 C589.9,132.7 592.2,127.8 594.8,122.6 C597.5,117.3 600.5,112.0 603.9,106.7 C607.2,101.5 611.4,95.5 615.1,90.9 C618.9,86.4 624.1,81.7 626.4,79.7 C628.8,77.6 628.6,80.0 629.1,78.5 C629.7,77.0 627.3,72.1 629.8,70.6Z" fill="#9e3834"/>
<clipPath id="cpKO"><path d="M629.8,70.6 C632.4,69.1 639.4,69.9 644.5,69.5 C649.6,69.1 656.2,68.5 660.3,68.4 C664.4,68.3 666.3,67.7 669.3,68.8 C672.3,70.0 674.6,72.2 678.4,75.1 C682.1,78.1 687.8,82.3 691.9,86.4 C696.0,90.6 699.8,95.5 703.2,100.0 C706.6,104.5 710.0,109.4 712.2,113.5 C714.5,117.7 715.6,119.9 716.7,124.8 C717.9,129.7 718.6,136.8 719.0,142.9 C719.4,148.9 719.4,155.3 719.0,160.9 C718.6,166.6 717.9,172.2 716.7,176.7 C715.6,181.2 714.8,185.4 712.2,188.0 C709.6,190.6 705.1,192.0 700.9,192.5 C696.8,193.1 690.8,192.5 687.4,191.4 C684.0,190.3 682.1,188.2 680.6,185.8 C679.1,183.3 679.5,179.7 678.4,176.7 C677.2,173.7 675.7,170.1 673.8,167.7 C672.0,165.3 670.1,163.0 667.1,162.1 C664.1,161.1 658.8,161.1 655.8,162.1 C652.8,163.0 651.3,165.3 649.0,167.7 C646.7,170.1 644.5,173.7 642.2,176.7 C640.0,179.7 638.1,183.3 635.5,185.8 C632.8,188.2 631.7,189.7 626.4,191.4 C621.2,193.1 611.0,195.0 603.9,195.9 C596.7,196.9 587.7,197.6 583.5,197.0 C579.4,196.5 579.8,195.9 579.0,192.5 C578.3,189.1 578.3,182.7 579.0,176.7 C579.8,170.7 582.0,162.8 583.5,156.4 C585.0,150.0 586.2,144.0 588.1,138.4 C589.9,132.7 592.2,127.8 594.8,122.6 C597.5,117.3 600.5,112.0 603.9,106.7 C607.2,101.5 611.4,95.5 615.1,90.9 C618.9,86.4 624.1,81.7 626.4,79.7 C628.8,77.6 628.6,80.0 629.1,78.5 C629.7,77.0 627.3,72.1 629.8,70.6Z"/></clipPath>
<g clip-path="url(#cpKO)">
<path d="M629.8,70.6 C632.4,69.1 639.4,69.9 644.5,69.5 C649.6,69.1 656.2,68.5 660.3,68.4 C664.4,68.3 666.3,67.7 669.3,68.8 C672.3,70.0 674.6,72.2 678.4,75.1 C682.1,78.1 687.8,82.3 691.9,86.4 C696.0,90.6 699.8,95.5 703.2,100.0 C706.6,104.5 710.0,109.4 712.2,113.5 C714.5,117.7 715.6,119.9 716.7,124.8 C717.9,129.7 718.6,136.8 719.0,142.9 C719.4,148.9 719.4,155.3 719.0,160.9 C718.6,166.6 717.9,172.2 716.7,176.7 C715.6,181.2 714.8,185.4 712.2,188.0 C709.6,190.6 705.1,192.0 700.9,192.5 C696.8,193.1 690.8,192.5 687.4,191.4 C684.0,190.3 682.1,188.2 680.6,185.8 C679.1,183.3 679.5,179.7 678.4,176.7 C677.2,173.7 675.7,170.1 673.8,167.7 C672.0,165.3 670.1,163.0 667.1,162.1 C664.1,161.1 658.8,161.1 655.8,162.1 C652.8,163.0 651.3,165.3 649.0,167.7 C646.7,170.1 644.5,173.7 642.2,176.7 C640.0,179.7 638.1,183.3 635.5,185.8 C632.8,188.2 631.7,189.7 626.4,191.4 C621.2,193.1 611.0,195.0 603.9,195.9 C596.7,196.9 587.7,197.6 583.5,197.0 C579.4,196.5 579.8,195.9 579.0,192.5 C578.3,189.1 578.3,182.7 579.0,176.7 C579.8,170.7 582.0,162.8 583.5,156.4 C585.0,150.0 586.2,144.0 588.1,138.4 C589.9,132.7 592.2,127.8 594.8,122.6 C597.5,117.3 600.5,112.0 603.9,106.7 C607.2,101.5 611.4,95.5 615.1,90.9 C618.9,86.4 624.1,81.7 626.4,79.7 C628.8,77.6 628.6,80.0 629.1,78.5 C629.7,77.0 627.3,72.1 629.8,70.6Z" fill="none" stroke="#b8261e" stroke-width="6" opacity="0.8"/>
<rect x="575" y="65" width="155" height="135" fill="#401212" filter="url(#tex)"/>
<rect x="575" y="65" width="155" height="135" fill="#d88878" filter="url(#tex2)"/>
<path d="M630.5,76.0 C632.8,75.9 639.5,75.3 644.5,74.9 C649.5,74.5 655.9,74.0 660.3,73.8 C664.7,73.6 669.1,73.8 670.9,73.8" fill="none" stroke="#e8701e" stroke-width="5" stroke-linecap="butt"/>
<path d="M630.5,76.0 C632.8,75.9 639.5,75.3 644.5,74.9 C649.5,74.5 655.9,74.0 660.3,73.8 C664.7,73.6 669.1,73.8 670.9,73.8" fill="none" stroke="#ffcf60" stroke-width="2.4" stroke-linecap="butt" filter="url(#blur05)"/>
<path d="M670.9,73.8 C672.3,74.6 676.0,76.1 679.5,78.8 C683.0,81.4 688.1,85.7 691.9,89.6 C695.7,93.5 699.0,98.1 702.1,102.2 C705.1,106.4 709.0,112.4 710.4,114.4" fill="none" stroke="#f08a28" stroke-width="2" stroke-linecap="butt" filter="url(#blur05)"/>
<path d="M579.0,174.5 C578.6,177.5 578.3,188.8 579.0,192.5 C579.8,196.3 582.6,197.0 583.5,197.0 C584.5,197.1 585.1,194.5 584.9,193.0 C584.7,191.5 582.7,191.1 582.2,188.0 C581.7,184.9 582.3,176.7 581.7,174.5 C581.2,172.2 579.5,171.5 579.0,174.5Z" fill="#f0a040"/>
<path d="M711.1,114.0 C711.5,113.6 715.4,120.0 716.7,124.8 C718.0,129.6 718.6,136.7 719.0,142.9 C719.4,149.1 719.3,158.9 719.0,162.1 C718.6,165.3 717.4,165.3 717.0,162.1 C716.5,158.9 716.9,148.7 716.5,142.9 C716.1,137.0 715.4,131.9 714.5,127.1 C713.6,122.2 710.7,114.3 711.1,114.0Z" fill="#ec8030" opacity="0.9"/>
<path d="M583.5,156.4 C583.9,153.4 586.2,144.0 588.1,138.4 C589.9,132.7 592.2,127.8 594.8,122.6 C597.5,117.3 602.1,109.1 603.9,106.7 C605.7,104.4 606.8,105.7 605.7,108.6 C604.5,111.4 599.6,118.7 597.1,123.9 C594.5,129.1 592.2,134.3 590.3,139.7 C588.4,145.1 586.9,153.6 585.8,156.4 C584.7,159.2 583.2,159.4 583.5,156.4Z" fill="#e0602a" opacity="0.5"/>
</g></g>
<line x1="614.0" y1="44.7" x2="619.0" y2="56.0" stroke="#1a1a1a" stroke-width="1.25"/>
<path d="M623.5,66.1 L613.0,58.7 L625.1,53.4Z" fill="#1a1a1a"/>
<line x1="651.7" y1="39.5" x2="651.7" y2="49.5" stroke="#1a1a1a" stroke-width="1.25"/>
<path d="M651.7,60.5 L645.1,49.5 L658.3,49.5Z" fill="#1a1a1a"/>
<line x1="691.9" y1="48.0" x2="684.9" y2="56.5" stroke="#1a1a1a" stroke-width="1.25"/>
<path d="M677.9,65.0 L679.8,52.3 L690.0,60.7Z" fill="#1a1a1a"/>
<text class="b" x="1.7" y="304" font-size="16.8" style="fill:#000;stroke:#000;stroke-width:0.3">C</text>
<path d="M75.4,328.75 V522.6 M67.3,522.6 H204.3" stroke="#000" stroke-width="2.1" fill="none"/>
<line x1="67.60000000000001" y1="329.8" x2="75.4" y2="329.8" stroke="#000" stroke-width="2.1"/>
<text class="b" x="66.0" y="335.2" font-size="14.8" text-anchor="end" style="fill:#000">8</text>
<line x1="67.60000000000001" y1="377.8" x2="75.4" y2="377.8" stroke="#000" stroke-width="2.1"/>
<text class="b" x="66.0" y="383.2" font-size="14.8" text-anchor="end" style="fill:#000">6</text>
<line x1="67.60000000000001" y1="426.3" x2="75.4" y2="426.3" stroke="#000" stroke-width="2.1"/>
<text class="b" x="66.0" y="431.7" font-size="14.8" text-anchor="end" style="fill:#000">4</text>
<line x1="67.60000000000001" y1="474.6" x2="75.4" y2="474.6" stroke="#000" stroke-width="2.1"/>
<text class="b" x="66.0" y="480.0" font-size="14.8" text-anchor="end" style="fill:#000">2</text>
<line x1="67.60000000000001" y1="522.6" x2="75.4" y2="522.6" stroke="#000" stroke-width="2.1"/>
<text class="b" x="66.0" y="528.0" font-size="14.8" text-anchor="end" style="fill:#000">0</text>
<rect x="94.95" y="405.15" width="34.20" height="117.45" fill="#fff" stroke="#000" stroke-width="2.7"/>
<rect x="150.05" y="432.65" width="33.90" height="89.95" fill="#e0e0e0" stroke="#000" stroke-width="2.7"/>
<line x1="112" y1="522.6" x2="112" y2="530.0" stroke="#000" stroke-width="2.1"/>
<text class="b" x="112" y="545" font-size="14.6" text-anchor="middle" style="fill:#000">WT</text>
<line x1="167.1" y1="522.6" x2="167.1" y2="530.0" stroke="#000" stroke-width="2.1"/>
<text class="b" x="167.1" y="545" font-size="14.6" text-anchor="middle" style="fill:#000">KO</text>
<path d="M112,381.5 V425.5 M103.2,381.5 H121.4 M103.2,425.5 H121.4" stroke="#111" stroke-width="1" fill="none"/>
<path d="M167.1,416.2 V446.5 M158.3,416.2 H176.5 M158.3,446.5 H176.5" stroke="#111" stroke-width="1" fill="none"/>
<circle cx="117.6" cy="385.6" r="2.9" fill="#111"/>
<circle cx="106.2" cy="390.9" r="2.9" fill="#111"/>
<circle cx="112" cy="402.8" r="2.9" fill="#111"/>
<circle cx="112" cy="434.6" r="2.9" fill="#111"/>
<rect x="159.1" y="411.4" width="5.4" height="5.4" fill="#111"/>
<rect x="170.5" y="416.5" width="5.4" height="5.4" fill="#111"/>
<rect x="164.4" y="426.1" width="5.4" height="5.4" fill="#111"/>
<rect x="159.1" y="444.6" width="5.4" height="5.4" fill="#111"/>
<rect x="170.5" y="443.0" width="5.4" height="5.4" fill="#111"/>
<text x="141.8" y="345.2" font-size="16.3" text-anchor="middle">p=0.059</text>
<line x1="112.1" y1="356.3" x2="167.2" y2="356.3" stroke="#000" stroke-width="2.7"/>
<text transform="translate(20.9,521.8) rotate(-90)" font-size="18"><tspan class="i">M. rectus femoris</tspan> length</text>
<text transform="translate(43,455.4) rotate(-90) scale(1.09,1)" font-size="17.6">mm</text>
<path d="M76.7,591.75 V786.1 M69,786.1 H205" stroke="#000" stroke-width="2.1" fill="none"/>
<line x1="68.9" y1="592.8" x2="76.7" y2="592.8" stroke="#000" stroke-width="2.1"/>
<text class="b" x="67.3" y="598.1999999999999" font-size="14.8" text-anchor="end" style="fill:#000">6</text>
<line x1="68.9" y1="657.7" x2="76.7" y2="657.7" stroke="#000" stroke-width="2.1"/>
<text class="b" x="67.3" y="663.1" font-size="14.8" text-anchor="end" style="fill:#000">4</text>
<line x1="68.9" y1="721.9" x2="76.7" y2="721.9" stroke="#000" stroke-width="2.1"/>
<text class="b" x="67.3" y="727.3" font-size="14.8" text-anchor="end" style="fill:#000">2</text>
<line x1="68.9" y1="786.1" x2="76.7" y2="786.1" stroke="#000" stroke-width="2.1"/>
<text class="b" x="67.3" y="791.5" font-size="14.8" text-anchor="end" style="fill:#000">0</text>
<rect x="96.45" y="697.75" width="33.70" height="88.35" fill="#fff" stroke="#000" stroke-width="2.7"/>
<rect x="151.35" y="746.25" width="33.90" height="39.85" fill="#e0e0e0" stroke="#000" stroke-width="2.7"/>
<line x1="113.3" y1="786.1" x2="113.3" y2="793.5" stroke="#000" stroke-width="2.1"/>
<text class="b" x="113.3" y="808.4" font-size="14.6" text-anchor="middle" style="fill:#000">WT</text>
<line x1="168.9" y1="786.1" x2="168.9" y2="793.5" stroke="#000" stroke-width="2.1"/>
<text class="b" x="168.9" y="808.4" font-size="14.6" text-anchor="middle" style="fill:#000">KO</text>
<path d="M113.3,681.5 V711.6 M103.7,681.5 H122.7 M103.7,711.6 H122.7" stroke="#111" stroke-width="1" fill="none"/>
<path d="M168.9,743.4 V749.5 M160,743.4 H177.8 M160,749.5 H177.8" stroke="#111" stroke-width="1" fill="none"/>
<circle cx="113.3" cy="677.4" r="2.9" fill="#111"/>
<circle cx="113.3" cy="693.4" r="2.9" fill="#111"/>
<circle cx="113.3" cy="705.2" r="2.9" fill="#111"/>
<circle cx="113.3" cy="711.1" r="2.9" fill="#111"/>
<rect x="158.1" y="739.7" width="5.4" height="5.4" fill="#111"/>
<rect x="173.8" y="740.5" width="5.4" height="5.4" fill="#111"/>
<rect x="152.3" y="744.3" width="5.4" height="5.4" fill="#111"/>
<rect x="166.2" y="745.0" width="5.4" height="5.4" fill="#111"/>
<rect x="180.1" y="744.3" width="5.4" height="5.4" fill="#111"/>
<text x="142.4" y="609.3" font-size="14.5" text-anchor="middle">***</text>
<line x1="113.8" y1="621.8" x2="169.4" y2="621.8" stroke="#000" stroke-width="2.7"/>
<text transform="translate(21.8,793.4) rotate(-90)" font-size="18"><tspan class="i">M. rectus femoris</tspan> volume</text>
<text transform="translate(44.3,706.2) rotate(-90) scale(1.09,1)" font-size="17.6">mm<tspan font-size="10.5" dy="-6.1" dx="0.2">3</tspan></text>
<text class="b" x="290" y="303.5" font-size="16.6" style="fill:#000;stroke:#000;stroke-width:0.3">D</text>
<rect x="354" y="317.3" width="379.29999999999995" height="200.59999999999997" fill="#fff" stroke="#909090" stroke-width="0.9"/>
<path d="M378.0,449.9 L380.7,451.3 L384.0,443.2 L386.7,432.3 L390.8,428.2 L393.5,429.6 L396.7,428.2 L400.3,426.3 L403.0,432.3 L406.5,429.6 L409.8,430.9 L413.9,429.6 L417.9,422.8 L422.0,416.0 L426.1,414.6 L430.2,411.9 L433.4,402.4 L437.0,403.8 L441.0,394.2 L444.3,388.8 L447.0,382.0 L450.0,390.2 L454.6,388.8 L457.9,383.4 L460.6,382.0 L464.1,384.7 L467.4,386.1 L470.9,380.7 L474.2,382.8 L477.2,380.7 L480.4,386.1 L484.5,388.8 L488.6,394.2 L492.7,391.5 L496.7,392.9 L502.2,396.4 L507.1,398.3 L511.7,394.8 L515.8,392.9 L519.8,394.2 L525.3,391.5 L529.3,392.9 L534.8,391.0 L540.2,392.1 L544.3,391.5 L548.2,396.4 L552.3,395.6 L556.4,397.0 L560.5,394.8 L563.2,397.5 L567.2,392.9 L571.3,391.5 L576.8,390.2 L580.8,391.5 L586.3,391.5 L590.3,397.0 L594.4,399.7 L599.9,403.8 L603.9,398.3 L607.5,392.9 L610.7,397.0 L614.8,401.0 L618.9,399.7 L623.0,401.8 L627.0,397.0 L631.1,391.5 L635.2,392.9 L638.7,398.3 L642.0,406.5 L646.1,411.9 L650.1,410.5 L653.4,413.8 L656.9,411.1 L660.5,416.5 L663.7,419.2 L667.2,416.0 L671.1,420.9 L674.6,422.0 L678.7,423.6 L682.7,429.6 L685.5,432.3 L688.7,429.6 L692.2,426.8 L696.3,430.9 L700.4,434.5 L703.9,434.5 L706.7,432.3 L709.9,437.7 L709.9,447.2 L706.7,443.7 L703.1,444.5 L699.0,443.7 L695.0,440.4 L690.9,439.9 L687.6,443.2 L684.1,442.6 L680.0,437.2 L675.9,435.5 L671.9,432.3 L668.6,425.5 L665.1,428.2 L661.5,425.5 L658.3,420.1 L655.0,422.8 L651.5,420.1 L648.0,422.0 L644.7,419.2 L640.6,414.6 L635.2,414.6 L629.8,414.6 L624.3,416.5 L618.9,416.0 L613.4,417.3 L608.0,414.6 L602.6,416.5 L597.1,416.5 L591.7,414.6 L586.3,411.9 L580.8,411.1 L575.4,410.5 L568.6,410.0 L563.2,411.9 L557.7,411.9 L552.3,411.1 L546.9,412.7 L544.3,410.5 L537.5,412.7 L530.7,413.8 L525.3,414.6 L518.5,415.4 L513.0,417.3 L507.6,419.2 L500.8,417.3 L495.4,416.0 L491.3,418.7 L485.9,417.3 L480.4,416.5 L475.0,415.4 L469.6,416.0 L464.1,419.2 L460.1,420.9 L456.0,421.4 L451.1,423.6 L447.3,418.7 L443.8,419.2 L439.7,422.8 L435.6,426.8 L431.5,427.4 L427.4,429.6 L423.4,429.6 L419.3,435.0 L415.2,439.9 L411.1,443.2 L407.1,444.5 L403.0,448.0 L399.7,444.5 L396.2,451.3 L392.1,455.4 L388.0,459.5 L384.0,462.2 L380.7,464.9 L378.0,464.9Z" fill="#6f8ff0" fill-opacity="0.5"/>
<path d="M378.0,449.1 L380.7,451.3 L384.0,448.6 L388.0,443.2 L392.1,439.1 L396.2,436.4 L400.3,432.3 L404.3,424.1 L407.6,414.6 L410.3,406.5 L413.0,404.3 L416.6,405.7 L420.7,407.8 L423.9,402.4 L427.4,392.3 L430.7,393.7 L433.4,398.3 L437.5,395.6 L443.8,390.2 L448.4,386.1 L453.3,382.0 L457.3,380.7 L461.4,382.8 L466.8,380.7 L470.9,378.5 L475.0,373.9 L479.1,374.7 L483.2,369.2 L487.2,365.7 L491.3,367.6 L496.7,366.5 L500.3,362.2 L503.0,367.1 L506.2,363.0 L510.3,365.7 L514.4,367.1 L518.5,369.8 L522.0,367.1 L525.3,370.3 L529.3,367.1 L534.8,368.4 L540.2,369.2 L543.5,367.1 L546.3,371.1 L549.6,369.8 L555.0,373.0 L561.8,373.0 L567.2,370.3 L572.7,367.6 L576.8,368.4 L582.2,366.5 L586.3,364.3 L590.3,366.5 L593.6,356.2 L596.6,348.9 L599.9,361.6 L603.9,365.7 L607.2,364.3 L610.7,365.7 L613.4,372.5 L616.7,371.1 L620.2,375.8 L624.3,372.5 L629.8,368.4 L633.8,371.1 L637.9,367.1 L642.0,358.9 L646.1,349.4 L650.1,342.6 L653.4,349.4 L658.3,350.8 L661.5,354.8 L665.1,364.3 L669.2,377.9 L673.2,391.5 L675.9,395.6 L680.0,394.2 L684.1,403.8 L688.2,409.2 L693.1,410.5 L696.3,405.1 L699.9,406.5 L703.9,403.8 L707.2,397.0 L709.9,390.7 L709.9,418.7 L707.7,421.4 L704.5,424.1 L700.4,425.5 L696.3,425.5 L692.2,428.2 L688.2,425.5 L684.1,422.8 L680.0,420.1 L675.9,416.0 L671.9,410.5 L667.8,403.8 L663.7,398.3 L659.6,395.6 L654.2,397.5 L650.1,394.2 L644.7,397.0 L640.6,394.8 L635.2,390.2 L629.8,388.8 L624.3,391.0 L620.2,391.5 L616.7,382.0 L613.4,381.2 L610.7,377.9 L607.2,376.6 L603.9,373.9 L599.9,371.1 L594.4,371.1 L590.3,370.3 L586.3,368.4 L579.5,371.1 L572.7,373.0 L565.9,375.2 L559.1,376.6 L552.3,376.6 L546.9,377.9 L544.3,379.3 L537.5,381.2 L530.7,382.0 L523.9,382.8 L517.1,384.7 L510.3,386.1 L503.5,388.8 L496.7,390.2 L489.9,389.3 L484.5,390.2 L479.1,392.9 L473.6,395.6 L468.2,396.4 L462.8,398.3 L458.7,398.3 L454.6,401.0 L449.2,403.8 L443.8,405.7 L438.3,408.4 L433.4,411.1 L428.8,410.5 L424.7,414.6 L421.2,417.3 L416.6,416.5 L412.5,416.0 L409.8,424.1 L407.1,436.4 L403.8,441.8 L400.3,445.9 L396.2,448.6 L392.1,452.7 L388.0,458.1 L384.0,462.2 L380.7,464.9 L378.0,464.9Z" fill="#6a6a6a" fill-opacity="0.68"/>
<path d="M378.0,456.7 L380.7,458.1 L384.0,454.0 L388.0,447.2 L392.1,443.2 L396.2,441.8 L399.7,435.5 L403.0,439.9 L407.1,436.4 L410.3,437.7 L413.9,436.4 L417.9,430.9 L422.0,423.6 L426.1,421.4 L430.2,420.1 L433.4,414.6 L436.4,414.6 L439.7,410.5 L443.8,407.8 L447.3,401.8 L450.5,406.5 L454.6,408.4 L457.9,405.1 L460.6,410.0 L464.1,405.7 L467.4,402.4 L470.9,398.3 L474.2,400.2 L477.2,397.5 L480.4,401.0 L484.5,402.4 L489.9,406.5 L493.5,402.9 L498.1,405.1 L503.5,406.5 L507.6,409.7 L512.2,405.7 L515.8,406.5 L519.8,404.6 L523.9,403.8 L528.0,405.1 L533.4,403.2 L538.9,402.9 L542.9,401.8 L548.2,404.6 L552.3,403.8 L556.4,404.6 L560.5,403.2 L563.2,405.1 L567.2,402.4 L571.3,401.0 L575.4,402.4 L579.5,401.0 L586.3,402.4 L590.3,405.7 L594.4,407.8 L599.9,410.5 L603.9,407.8 L607.5,403.8 L610.7,406.5 L614.0,409.2 L617.5,407.8 L623.0,409.2 L627.0,406.5 L631.1,403.8 L635.2,404.6 L639.3,408.4 L643.3,412.7 L646.9,416.5 L650.1,414.6 L653.4,418.2 L656.9,414.6 L660.5,420.1 L663.7,423.6 L667.2,420.1 L671.1,426.8 L674.6,429.6 L678.7,430.9 L682.7,435.5 L685.5,437.7 L688.7,435.5 L691.4,432.8 L695.0,435.5 L699.0,439.9 L703.1,440.4 L706.7,439.1 L709.9,442.6" fill="none" stroke="#2a55d0" stroke-width="1.0" stroke-linejoin="round"/>
<path d="M378.0,456.7 L380.7,458.4 L384.0,455.4 L388.0,449.9 L392.1,445.3 L396.2,442.6 L399.7,439.9 L403.0,435.5 L405.7,429.6 L407.9,420.9 L410.3,412.7 L413.0,409.7 L416.6,410.5 L420.7,412.7 L423.4,410.0 L426.9,402.4 L430.2,401.8 L433.4,405.1 L437.5,401.8 L443.8,398.0 L449.2,394.8 L454.6,392.1 L458.2,390.2 L462.0,391.0 L467.4,388.8 L473.6,387.2 L477.7,383.4 L481.8,382.8 L485.9,377.9 L489.9,377.4 L495.4,378.5 L500.8,376.6 L504.1,378.5 L507.1,374.4 L510.9,376.0 L515.8,376.6 L520.7,377.9 L523.9,374.7 L527.2,376.6 L531.5,374.7 L537.5,375.2 L542.9,373.0 L546.9,374.7 L550.9,373.9 L556.4,375.2 L561.8,374.7 L567.2,372.5 L572.7,370.3 L576.8,370.3 L582.2,368.4 L586.3,366.5 L590.3,368.4 L593.6,363.0 L596.6,359.7 L599.9,365.7 L603.4,368.4 L607.2,371.1 L610.7,372.0 L613.4,376.6 L616.2,375.2 L620.2,383.9 L624.3,381.2 L629.8,377.9 L633.8,380.1 L637.1,382.0 L640.6,379.3 L644.7,373.9 L649.6,367.6 L654.2,371.1 L658.3,373.9 L661.5,374.7 L665.1,379.3 L669.2,388.8 L673.2,399.7 L677.3,406.5 L681.4,410.5 L684.9,414.6 L688.2,417.3 L693.1,418.7 L696.3,414.1 L699.9,415.4 L703.9,414.6 L707.2,410.5 L709.9,403.2" fill="none" stroke="#111" stroke-width="1.25" stroke-linejoin="round"/>
<text transform="translate(351.8,360.40000000000003) scale(0.88,1)" font-size="8.7" text-anchor="end" style="fill:#000">4</text>
<text transform="translate(351.8,400.5) scale(0.88,1)" font-size="8.7" text-anchor="end" style="fill:#000">3</text>
<text transform="translate(351.8,440.6) scale(0.88,1)" font-size="8.7" text-anchor="end" style="fill:#000">2</text>
<text transform="translate(351.8,480.70000000000005) scale(0.88,1)" font-size="8.7" text-anchor="end" style="fill:#000">1</text>
<text transform="translate(378.0,527) scale(0.86,1)" font-size="8.7" text-anchor="middle" style="fill:#000">0</text>
<text transform="translate(394.6,527) scale(0.86,1)" font-size="8.7" text-anchor="middle" style="fill:#000">5</text>
<text transform="translate(411.1,527) scale(0.86,1)" font-size="8.7" text-anchor="middle" style="fill:#000">10</text>
<text transform="translate(427.7,527) scale(0.86,1)" font-size="8.7" text-anchor="middle" style="fill:#000">15</text>
<text transform="translate(444.3,527) scale(0.86,1)" font-size="8.7" text-anchor="middle" style="fill:#000">20</text>
<text transform="translate(460.9,527) scale(0.86,1)" font-size="8.7" text-anchor="middle" style="fill:#000">25</text>
<text transform="translate(477.4,527) scale(0.86,1)" font-size="8.7" text-anchor="middle" style="fill:#000">30</text>
<text transform="translate(494.0,527) scale(0.86,1)" font-size="8.7" text-anchor="middle" style="fill:#000">35</text>
<text transform="translate(510.6,527) scale(0.86,1)" font-size="8.7" text-anchor="middle" style="fill:#000">40</text>
<text transform="translate(527.2,527) scale(0.86,1)" font-size="8.7" text-anchor="middle" style="fill:#000">45</text>
<text transform="translate(543.8,527) scale(0.86,1)" font-size="8.7" text-anchor="middle" style="fill:#000">50</text>
<text transform="translate(560.3,527) scale(0.86,1)" font-size="8.7" text-anchor="middle" style="fill:#000">55</text>
<text transform="translate(576.9,527) scale(0.86,1)" font-size="8.7" text-anchor="middle" style="fill:#000">60</text>
<text transform="translate(593.5,527) scale(0.86,1)" font-size="8.7" text-anchor="middle" style="fill:#000">65</text>
<text transform="translate(610.0,527) scale(0.86,1)" font-size="8.7" text-anchor="middle" style="fill:#000">70</text>
<text transform="translate(626.6,527) scale(0.86,1)" font-size="8.7" text-anchor="middle" style="fill:#000">75</text>
<text transform="translate(643.2,527) scale(0.86,1)" font-size="8.7" text-anchor="middle" style="fill:#000">80</text>
<text transform="translate(659.8,527) scale(0.86,1)" font-size="8.7" text-anchor="middle" style="fill:#000">85</text>
<text transform="translate(676.4,527) scale(0.86,1)" font-size="8.7" text-anchor="middle" style="fill:#000">90</text>
<text transform="translate(692.9,527) scale(0.86,1)" font-size="8.7" text-anchor="middle" style="fill:#000">95</text>
<text transform="translate(709.5,527) scale(0.86,1)" font-size="8.7" text-anchor="middle" style="fill:#000">100</text>
<text x="545.2" y="542.9" font-size="16" text-anchor="middle">% femoris length</text>
<rect x="360.3" y="626.8" width="369.40000000000003" height="201.10000000000002" fill="#fff" stroke="#909090" stroke-width="0.9"/>
<path d="M383.2,804.2 L386.7,802.6 L390.8,799.3 L394.8,796.1 L400.3,794.5 L405.7,791.7 L411.1,787.9 L416.6,784.4 L422.0,780.3 L427.4,774.3 L431.5,769.5 L437.0,765.4 L442.4,760.8 L447.8,757.2 L453.3,754.5 L458.7,752.6 L465.5,751.0 L470.9,749.1 L477.7,747.2 L484.5,743.6 L491.3,740.1 L498.1,738.2 L504.9,736.3 L511.7,734.1 L518.5,732.0 L525.3,729.2 L530.7,728.2 L536.1,727.3 L541.6,724.6 L546.9,722.7 L552.3,721.9 L557.7,721.9 L563.2,722.7 L568.6,724.6 L575.4,725.4 L583.6,726.0 L590.3,728.7 L597.1,732.8 L603.9,737.4 L610.7,740.1 L617.5,742.8 L624.3,743.6 L629.8,745.0 L636.5,749.1 L643.3,751.8 L650.1,754.5 L655.6,758.6 L659.6,762.7 L665.1,764.6 L670.5,768.1 L675.9,772.2 L681.4,777.1 L686.8,779.8 L692.2,781.7 L697.7,785.2 L703.1,786.3 L706.7,786.3 L706.7,793.4 L703.1,793.4 L697.7,792.6 L692.2,789.8 L686.8,788.5 L681.4,787.1 L675.9,783.0 L670.5,779.8 L665.1,776.2 L659.6,773.5 L655.6,770.0 L650.1,766.7 L643.3,762.7 L636.5,759.1 L629.8,757.2 L624.3,756.4 L617.5,755.3 L610.7,754.5 L603.9,753.2 L597.1,751.8 L590.3,750.4 L583.6,749.1 L575.4,749.1 L568.6,747.2 L563.2,744.5 L557.7,742.8 L552.3,742.3 L546.9,742.8 L541.6,745.5 L536.1,749.1 L530.7,751.0 L525.3,752.6 L518.5,753.7 L511.7,755.9 L504.9,757.2 L498.1,758.0 L491.3,758.6 L484.5,759.9 L477.7,761.8 L470.9,763.5 L465.5,766.7 L458.7,768.9 L453.3,770.0 L447.8,772.7 L442.4,777.1 L437.0,780.3 L431.5,783.0 L427.4,785.8 L422.0,789.0 L416.6,793.4 L411.1,796.1 L405.7,798.8 L400.3,802.1 L394.8,804.8 L390.8,807.0 L386.7,809.1 L383.2,810.2Z" fill="#6f8ff0" fill-opacity="0.5"/>
<path d="M383.2,809.7 L386.7,807.5 L390.8,804.8 L394.8,799.9 L398.9,795.3 L403.0,790.7 L407.1,784.4 L410.3,776.2 L413.0,766.7 L415.2,759.9 L417.9,755.9 L421.2,753.7 L424.7,752.6 L428.8,743.6 L431.5,735.5 L435.6,731.4 L439.7,726.0 L443.8,719.2 L447.8,713.8 L453.3,707.0 L458.7,701.5 L464.1,696.6 L469.6,692.0 L475.0,690.1 L479.1,683.9 L484.5,677.1 L488.6,671.6 L492.7,664.8 L496.7,662.1 L502.2,660.8 L507.6,657.5 L513.0,655.3 L515.8,655.3 L519.0,662.1 L522.0,668.9 L526.6,669.5 L532.1,671.1 L537.5,671.1 L542.9,670.3 L546.9,669.5 L552.3,667.6 L557.7,664.0 L563.2,662.9 L570.0,662.1 L575.4,658.0 L579.5,654.0 L583.6,653.2 L587.1,654.8 L589.0,659.4 L594.4,661.3 L599.9,663.5 L605.3,665.7 L610.7,668.4 L617.5,674.3 L623.0,675.7 L629.8,678.4 L636.5,682.5 L643.3,685.2 L648.8,687.9 L654.2,692.8 L658.3,698.8 L662.4,715.1 L666.4,727.3 L670.5,735.5 L674.6,739.6 L678.7,742.3 L682.7,749.1 L686.8,754.5 L690.9,757.2 L696.3,757.2 L701.8,759.1 L706.7,761.3 L706.7,777.1 L701.8,774.3 L696.3,771.6 L690.9,770.0 L685.5,768.9 L680.0,765.4 L674.6,761.3 L670.5,757.2 L666.4,751.0 L662.4,745.0 L656.9,740.1 L651.5,737.4 L644.7,732.8 L639.3,727.3 L633.8,719.2 L629.8,711.0 L624.3,706.4 L618.9,702.9 L614.8,696.1 L610.7,689.3 L605.3,682.5 L601.2,677.1 L597.1,670.3 L591.7,666.7 L586.3,666.2 L580.8,666.7 L575.4,668.9 L570.0,671.6 L563.2,674.3 L557.7,675.7 L552.3,675.7 L546.9,675.7 L542.9,677.6 L537.5,682.5 L532.1,687.9 L526.6,693.4 L522.6,697.4 L518.5,699.3 L513.0,702.9 L507.6,707.0 L502.2,708.3 L496.7,708.3 L491.3,712.4 L487.2,716.5 L481.8,720.0 L476.4,722.7 L470.9,724.6 L466.8,728.7 L461.4,732.8 L456.0,735.5 L450.5,738.2 L445.1,741.7 L441.0,747.7 L437.0,753.2 L432.9,753.7 L428.8,757.2 L424.7,761.3 L421.2,762.7 L417.9,766.2 L415.2,770.8 L413.0,780.3 L410.3,792.6 L407.1,795.3 L403.0,799.3 L398.9,803.4 L394.8,807.0 L390.8,810.2 L386.7,813.5 L383.2,815.1Z" fill="#6a6a6a" fill-opacity="0.68"/>
<path d="M383.2,807.5 L386.7,806.1 L390.8,803.4 L394.8,800.7 L400.3,798.0 L405.7,795.3 L411.1,791.7 L416.6,788.5 L422.0,784.4 L427.4,780.3 L431.5,777.1 L437.0,773.5 L442.4,769.5 L447.8,765.4 L453.3,762.7 L458.7,760.8 L465.5,759.1 L470.9,756.4 L477.7,754.5 L484.5,752.6 L491.3,749.9 L498.1,748.3 L504.9,747.2 L511.7,745.5 L518.5,743.6 L525.3,740.9 L530.7,739.6 L536.1,738.2 L541.6,734.7 L546.9,732.8 L552.3,732.0 L557.7,732.0 L563.2,732.8 L568.6,734.7 L575.4,737.4 L583.6,737.4 L590.3,739.6 L597.1,742.3 L603.9,745.0 L610.7,747.2 L617.5,748.3 L624.3,749.9 L629.8,751.0 L636.5,753.7 L643.3,757.2 L650.1,760.8 L655.6,764.0 L659.6,768.1 L665.1,770.0 L670.5,773.5 L675.9,777.6 L681.4,781.7 L686.8,783.6 L692.2,785.8 L697.7,789.0 L703.1,789.8 L706.7,789.8" fill="none" stroke="#2a55d0" stroke-width="1.0" stroke-linejoin="round"/>
<path d="M383.2,812.1 L386.7,810.2 L390.8,807.5 L394.8,803.4 L398.9,799.3 L403.0,795.3 L407.1,789.8 L410.3,782.5 L413.0,772.2 L415.2,765.4 L417.9,761.3 L421.2,758.6 L424.7,756.4 L428.8,750.4 L432.9,745.0 L436.4,743.6 L441.0,737.4 L445.1,731.4 L449.2,726.0 L454.6,721.1 L460.1,716.5 L464.7,712.4 L469.6,708.3 L475.0,706.4 L479.1,701.5 L484.5,696.6 L488.6,692.0 L494.0,686.6 L499.5,685.2 L504.9,683.0 L510.3,679.8 L515.2,677.6 L518.5,679.2 L522.0,683.0 L526.6,681.1 L532.1,679.2 L537.5,676.5 L542.9,673.8 L546.9,672.2 L552.3,671.1 L557.7,669.5 L563.2,668.4 L570.0,666.7 L575.4,663.5 L580.8,660.8 L584.9,660.2 L589.0,662.1 L594.4,664.8 L599.9,668.9 L603.9,674.3 L609.4,679.2 L614.8,685.2 L618.9,690.1 L624.3,691.2 L629.8,694.7 L635.2,701.5 L640.6,707.0 L647.4,711.0 L654.2,715.1 L658.3,720.5 L662.4,728.7 L666.4,736.8 L670.5,745.0 L674.6,750.4 L680.0,754.5 L685.5,759.9 L689.5,762.7 L695.0,763.5 L700.4,765.4 L706.7,768.9" fill="none" stroke="#111" stroke-width="1.25" stroke-linejoin="round"/>
<text transform="translate(358.1,670.4) scale(0.88,1)" font-size="8.7" text-anchor="end" style="fill:#000">0.8</text>
<text transform="translate(358.1,710.5) scale(0.88,1)" font-size="8.7" text-anchor="end" style="fill:#000">0.6</text>
<text transform="translate(358.1,750.6) scale(0.88,1)" font-size="8.7" text-anchor="end" style="fill:#000">0.4</text>
<text transform="translate(358.1,791.3000000000001) scale(0.88,1)" font-size="8.7" text-anchor="end" style="fill:#000">0.2</text>
<text transform="translate(383.2,836.9) scale(0.86,1)" font-size="8.7" text-anchor="middle" style="fill:#000">0</text>
<text transform="translate(399.4,836.9) scale(0.86,1)" font-size="8.7" text-anchor="middle" style="fill:#000">5</text>
<text transform="translate(415.5,836.9) scale(0.86,1)" font-size="8.7" text-anchor="middle" style="fill:#000">10</text>
<text transform="translate(431.7,836.9) scale(0.86,1)" font-size="8.7" text-anchor="middle" style="fill:#000">15</text>
<text transform="translate(447.9,836.9) scale(0.86,1)" font-size="8.7" text-anchor="middle" style="fill:#000">20</text>
<text transform="translate(464.1,836.9) scale(0.86,1)" font-size="8.7" text-anchor="middle" style="fill:#000">25</text>
<text transform="translate(480.2,836.9) scale(0.86,1)" font-size="8.7" text-anchor="middle" style="fill:#000">30</text>
<text transform="translate(496.4,836.9) scale(0.86,1)" font-size="8.7" text-anchor="middle" style="fill:#000">35</text>
<text transform="translate(512.6,836.9) scale(0.86,1)" font-size="8.7" text-anchor="middle" style="fill:#000">40</text>
<text transform="translate(528.7,836.9) scale(0.86,1)" font-size="8.7" text-anchor="middle" style="fill:#000">45</text>
<text transform="translate(544.9,836.9) scale(0.86,1)" font-size="8.7" text-anchor="middle" style="fill:#000">50</text>
<text transform="translate(561.1,836.9) scale(0.86,1)" font-size="8.7" text-anchor="middle" style="fill:#000">55</text>
<text transform="translate(577.2,836.9) scale(0.86,1)" font-size="8.7" text-anchor="middle" style="fill:#000">60</text>
<text transform="translate(593.4,836.9) scale(0.86,1)" font-size="8.7" text-anchor="middle" style="fill:#000">65</text>
<text transform="translate(609.6,836.9) scale(0.86,1)" font-size="8.7" text-anchor="middle" style="fill:#000">70</text>
<text transform="translate(625.8,836.9) scale(0.86,1)" font-size="8.7" text-anchor="middle" style="fill:#000">75</text>
<text transform="translate(641.9,836.9) scale(0.86,1)" font-size="8.7" text-anchor="middle" style="fill:#000">80</text>
<text transform="translate(658.1,836.9) scale(0.86,1)" font-size="8.7" text-anchor="middle" style="fill:#000">85</text>
<text transform="translate(674.3,836.9) scale(0.86,1)" font-size="8.7" text-anchor="middle" style="fill:#000">90</text>
<text transform="translate(690.4,836.9) scale(0.86,1)" font-size="8.7" text-anchor="middle" style="fill:#000">95</text>
<text transform="translate(706.6,836.9) scale(0.86,1)" font-size="8.7" text-anchor="middle" style="fill:#000">100</text>
<text x="545.2" y="855.3" font-size="16" text-anchor="middle">% femoris length</text>
<text transform="translate(315,533.4) rotate(-90)" font-size="18"><tspan class="i">M. rectus femoris</tspan> perimeter</text>
<text transform="translate(337.8,435.3) rotate(-90) scale(1.09,1)" font-size="17.6">mm</text>
<text transform="translate(316.7,816.8) rotate(-90)" font-size="18"><tspan class="i">M. rectus femoris</tspan> area</text>
<text transform="translate(339.1,745) rotate(-90) scale(1.09,1)" font-size="17.6">mm<tspan font-size="10.5" dy="-6.1" dx="0.2">2</tspan></text>
<rect x="378.5" y="549.3" width="336.2" height="22.8" fill="#0000f5"/>
<rect x="407.9" y="549.3" width="10.0" height="22.8" fill="#ffff00"/>
<rect x="543.4" y="549.3" width="77.6" height="22.8" fill="#ffff00"/>
<rect x="563.6" y="549.3" width="3.3" height="22.8" fill="#00f400"/>
<rect x="577" y="549.3" width="2.8" height="22.8" fill="#0000f5"/>
<rect x="590.2" y="549.3" width="7.5" height="22.8" fill="#00f400"/>
<rect x="600" y="549.3" width="3.3" height="22.8" fill="#ff2000"/>
<rect x="603.3" y="549.3" width="4.2" height="22.8" fill="#00f400"/>
<rect x="670.8" y="549.3" width="7.0" height="22.8" fill="#ffff00"/>
<rect x="384.6" y="860" width="324.0" height="22.1" fill="#0000f5"/>
<rect x="412.8" y="860" width="13.7" height="22.1" fill="#00f400"/>
<rect x="426.5" y="860" width="3.1" height="22.1" fill="#ffff00"/>
<rect x="439.1" y="860" width="6.5" height="22.1" fill="#ffff00"/>
<rect x="516.9" y="860" width="9.3" height="22.1" fill="#ffff00"/>
<rect x="526.2" y="860" width="88.6" height="22.1" fill="#00f400"/>
<rect x="585.1" y="860" width="3.1" height="22.1" fill="#ff2000"/>
<rect x="595.2" y="860" width="9.5" height="22.1" fill="#ff2000"/>
<rect x="614.8" y="860" width="18.8" height="22.1" fill="#ffff00"/>
<rect x="689" y="860" width="13.1" height="22.1" fill="#ffff00"/>
<text transform="translate(570.2,922.9) scale(0.92,1)" font-size="14.8" text-anchor="middle">WT</text>
<text transform="translate(682.9,922.6) scale(0.84,1)" font-size="14.8" text-anchor="middle">KO</text>
<line x1="525.9" y1="931.4" x2="613" y2="931.4" stroke="#0a0a0a" stroke-width="3.1"/>
<line x1="640.3" y1="931.7" x2="725.5" y2="930.2" stroke="#1f80d6" stroke-width="2.7"/>
<rect x="377.1" y="959.2" width="8" height="20.6" fill="#f03050" stroke="#14248c" stroke-width="1.6"/>
<text transform="translate(387.20000000000005,974.9) scale(0.935,1)" font-size="12.4" style="fill:#0a0a0a">p≤0.000-0.001</text>
<rect x="476.6" y="959.2" width="8" height="20.6" fill="#ffff50" stroke="#14248c" stroke-width="1.6"/>
<text transform="translate(486.8,974.9) scale(0.935,1)" font-size="12.4" style="fill:#0a0a0a">p≤0.001-0.01</text>
<rect x="568.2" y="959.2" width="8" height="20.6" fill="#70d020" stroke="#14248c" stroke-width="1.6"/>
<text transform="translate(577.9,974.9) scale(0.935,1)" font-size="12.4" style="fill:#0a0a0a">p≤0.01-0.05</text>
<rect x="650.2" y="959.2" width="8" height="20.6" fill="#1020b8" stroke="#14248c" stroke-width="1.6"/>
<text transform="translate(660.2,974.9) scale(0.935,1)" font-size="12.4" style="fill:#0a0a0a">Not significant</text>
</svg></body></html>
